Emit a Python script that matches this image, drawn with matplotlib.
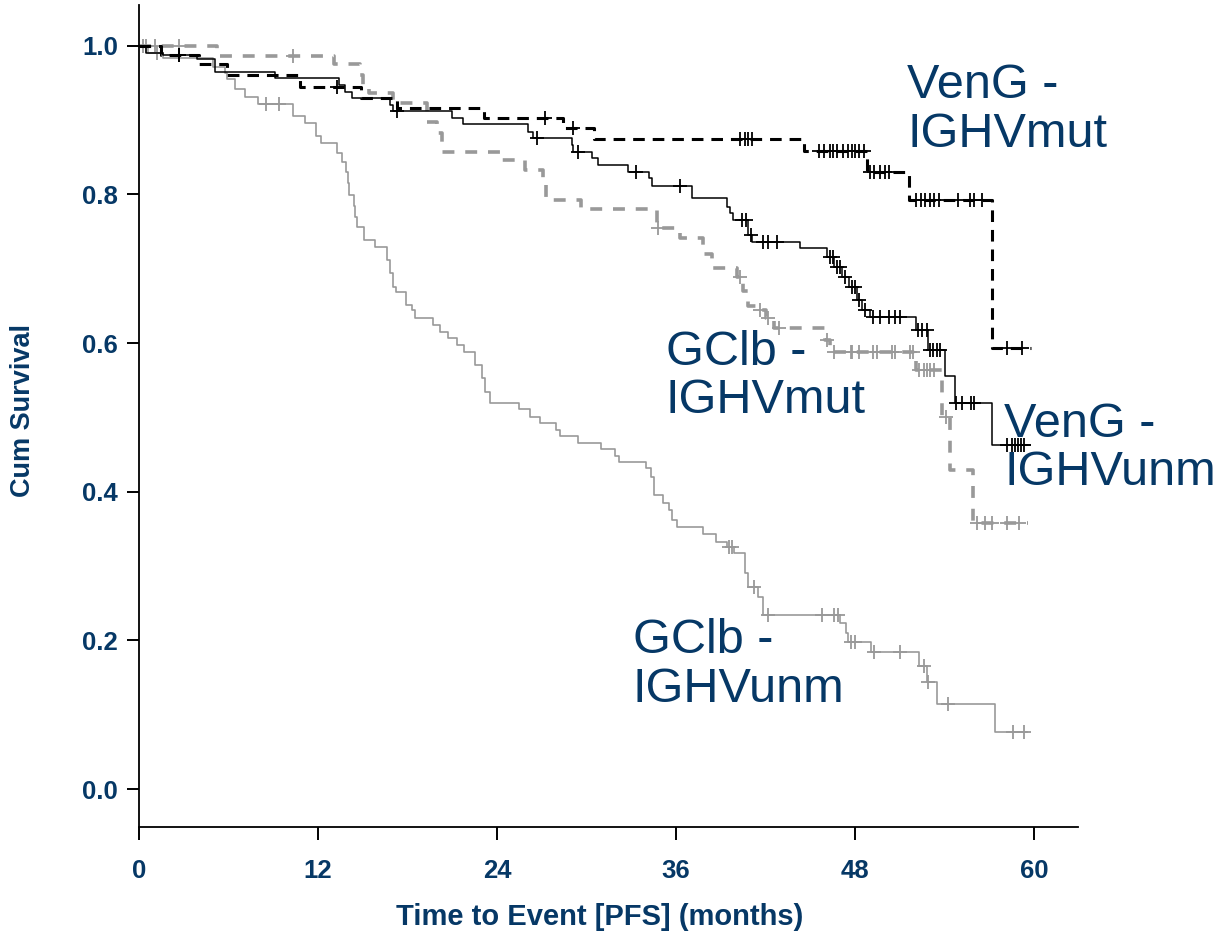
import numpy as np
import matplotlib
matplotlib.use("Agg")
import matplotlib.pyplot as plt

# ---- Kaplan-Meier step data (months, cumulative survival) ----
# VenG - IGHVmut
vm_times = [0, 1.5, 4.0, 5.9, 10.8, 14.9, 17.3, 23.1, 28.4, 30.5, 44.6, 48.8, 51.6, 57.2]
vm_surv = [1.0, 0.988, 0.975, 0.961, 0.945, 0.930, 0.917, 0.903, 0.889, 0.875, 0.859, 0.830, 0.792, 0.594]
vm_censor = [2.7, 13.3, 27.2, 29.1, 40.3, 40.6, 40.8, 41.1, 45.6, 45.9, 46.3, 46.5, 46.8, 47.2,
             47.5, 47.8, 48.0, 48.3, 48.6, 49.0, 49.3, 49.7, 50.0, 50.3, 52.1, 52.4, 52.7, 53.0,
             53.3, 53.6, 54.9, 55.7, 56.0, 56.5, 58.2, 59.2]
vm_end = 59.8

# VenG - IGHVunm
vu_times = [0, 0.5, 1.6, 3.9, 5.1, 9.1, 13.4, 13.8, 14.3, 16.8, 17.0, 21.0, 21.7, 26.1, 26.4,
            29.0, 29.1, 30.4, 30.8, 32.8, 34.2, 34.4, 37.1, 39.4, 39.6, 39.8, 40.8, 41.1, 44.3,
            46.1, 46.6, 47.1, 47.6, 48.1, 48.5, 49.0, 52.1, 52.9, 54.0, 54.7, 57.2]
vu_surv = [1.0, 0.991, 0.988, 0.982, 0.965, 0.957, 0.947, 0.938, 0.930, 0.921, 0.912, 0.903,
           0.895, 0.884, 0.876, 0.867, 0.857, 0.849, 0.840, 0.830, 0.822, 0.812, 0.795, 0.783,
           0.775, 0.766, 0.746, 0.736, 0.728, 0.716, 0.703, 0.689, 0.675, 0.658, 0.645, 0.635,
           0.618, 0.591, 0.556, 0.519, 0.463]
vu_censor = [2.7, 17.3, 26.7, 29.4, 33.3, 36.3, 40.4, 40.7, 41.0, 41.8, 42.2, 42.8, 46.3, 46.5,
             46.8, 47.0, 47.3, 47.8, 48.0, 48.3, 48.7, 49.2, 49.7, 50.3, 50.7, 51.0, 52.2, 52.5,
             52.8, 53.0, 53.2, 53.5, 53.7, 54.8, 55.2, 55.8, 56.0, 58.2, 58.5, 58.7, 58.9, 59.1, 59.3]
vu_end = 59.7

# GClb - IGHVmut
gm_times = [0, 5.2, 13.1, 14.8, 15.0, 15.4, 17.0, 19.3, 20.0, 20.3, 24.2, 25.9, 27.1, 27.3, 29.6,
            34.7, 36.3, 37.8, 38.4, 40.1, 40.5, 40.8, 41.5, 42.0, 42.6, 46.0, 46.3, 52.1, 53.8,
            54.4, 55.9]
gm_surv = [1.0, 0.987, 0.975, 0.961, 0.945, 0.937, 0.923, 0.898, 0.883, 0.857, 0.847, 0.833, 0.817,
           0.793, 0.781, 0.755, 0.742, 0.720, 0.701, 0.689, 0.670, 0.650, 0.645, 0.634, 0.621,
           0.604, 0.588, 0.564, 0.501, 0.429, 0.358]
gm_censor = [0.5, 1.1, 2.7, 10.3, 34.8, 40.3, 41.6, 42.2, 42.9, 46.1, 46.6, 47.7, 47.8, 48.3, 49.2,
             49.5, 50.5, 50.7, 51.7, 51.9, 52.3, 52.6, 52.8, 53.0, 53.3, 54.1, 56.2, 56.7, 57.2,
             58.2, 59.0]
gm_end = 59.6

# GClb - IGHVunm
gu_times = [0, 0.6, 1.6, 4.96, 5.76, 5.9, 6.43, 7.1, 8.0, 10.3, 11.1, 11.9, 12.2, 13.3, 13.6,
            13.85, 14.0, 14.1, 14.4, 14.5, 14.6, 15.1, 15.8, 16.6, 16.8, 17.0, 17.2, 17.9, 18.3,
            18.5, 19.7, 20.2, 20.7, 21.3, 21.8, 22.5, 23.0, 23.2, 23.5, 25.5, 26.2, 26.9, 27.95,
            28.2, 29.4, 31.0, 31.9, 32.2, 34.0, 34.3, 34.5, 35.1, 35.5, 35.7, 36.1, 37.8, 38.7,
            39.4, 39.9, 40.6, 40.8, 41.5, 41.8, 47.0, 47.4, 47.5, 49.1, 52.3, 52.8, 53.5, 57.4]
gu_surv = [1.0, 0.991, 0.983, 0.972, 0.964, 0.955, 0.942, 0.931, 0.922, 0.906, 0.896, 0.879,
           0.869, 0.856, 0.844, 0.830, 0.815, 0.799, 0.785, 0.770, 0.756, 0.739, 0.729, 0.712,
           0.695, 0.676, 0.669, 0.651, 0.645, 0.634, 0.624, 0.615, 0.607, 0.598, 0.588, 0.571,
           0.553, 0.534, 0.519, 0.511, 0.501, 0.493, 0.483, 0.475, 0.466, 0.457, 0.448, 0.440,
           0.432, 0.420, 0.396, 0.385, 0.376, 0.362, 0.353, 0.343, 0.333, 0.326, 0.318, 0.291,
           0.272, 0.259, 0.234, 0.223, 0.210, 0.198, 0.184, 0.165, 0.144, 0.115, 0.077]
gu_censor = [0.3, 1.2, 8.5, 9.4, 39.55, 39.75, 41.2, 42.2, 45.8, 46.6, 46.85, 47.7, 48.0, 49.3,
             51.0, 52.6, 52.9, 54.2, 58.6, 59.3]
gu_end = 59.5

x_ticks = [0, 12, 24, 36, 48, 60]
y_ticks = [0.0, 0.2, 0.4, 0.6, 0.8, 1.0]
group_labels = ["VenG -\nIGHVmut", "VenG -\nIGHVunm", "GClb -\nIGHVmut", "GClb -\nIGHVunm"]

NAVY = "#063866"
GRAY = "#999999"

fig = plt.figure(figsize=(12.22, 9.38), dpi=100)
ax = fig.add_axes([0.1137, 0.1183, 0.7685, 0.8764])


def surv_at(times, surv, t):
    idx = np.searchsorted(times, t, side="right") - 1
    return surv[idx]


def km(times, surv, censor, end, color, lw, dashed):
    xs = list(times) + [end]
    ys = list(surv) + [surv[-1]]
    line, = ax.step(xs, ys, where="post", color=color, lw=lw)
    if dashed:
        line.set_dashes(dashed)
    cy = [surv_at(times, surv, t) for t in censor]
    ax.plot(censor, cy, ls="none", marker="+", ms=10, mew=1.3, color=color)


km(gu_times, gu_surv, gu_censor, gu_end, GRAY, 1.2, None)
km(gm_times, gm_surv, gm_censor, gm_end, GRAY, 2.6, (3.3, 3.0))
km(vu_times, vu_surv, vu_censor, vu_end, "black", 1.1, None)
km(vm_times, vm_surv, vm_censor, vm_end, "black", 2.2, (3.8, 2.6))

ax.set_xlim(0, 62.95)
ax.set_ylim(-0.0511, 1.055)
ax.set_xticks(x_ticks)
ax.set_yticks(y_ticks)
ax.set_xticklabels([str(v) for v in x_ticks])
ax.set_yticklabels([f"{v:.1f}" for v in y_ticks])

for side in ("top", "right"):
    ax.spines[side].set_visible(False)
for side in ("left", "bottom"):
    ax.spines[side].set_linewidth(1.3)

ax.tick_params(axis="both", direction="out", length=9, width=1.4, color="black",
               labelcolor=NAVY, labelsize=18.5)
ax.tick_params(axis="x", pad=14)
ax.tick_params(axis="y", pad=6)
for lab in ax.get_xticklabels() + ax.get_yticklabels():
    lab.set_fontweight("bold")
    lab.set_fontfamily("Liberation Sans")

ax.set_xlabel("Time to Event [PFS] (months)", fontsize=21, fontweight="bold",
              color=NAVY, family="Liberation Sans")
ax.xaxis.set_label_coords(0.491, -0.093)
ax.set_ylabel("Cum Survival", fontsize=19.5, fontweight="bold", color=NAVY,
              family="Liberation Sans")
ax.yaxis.set_label_coords(-0.110, 0.507)

label_pos = [(51.5, 0.914), (58.0, 0.458), (35.3, 0.555), (33.1, 0.167)]
for text, (x, y) in zip(group_labels, label_pos):
    ax.text(x, y, text, fontsize=35, color=NAVY, family="Liberation Sans",
            ha="left", va="center", linespacing=1.1, clip_on=False)

fig.savefig("out.png", dpi=100)
